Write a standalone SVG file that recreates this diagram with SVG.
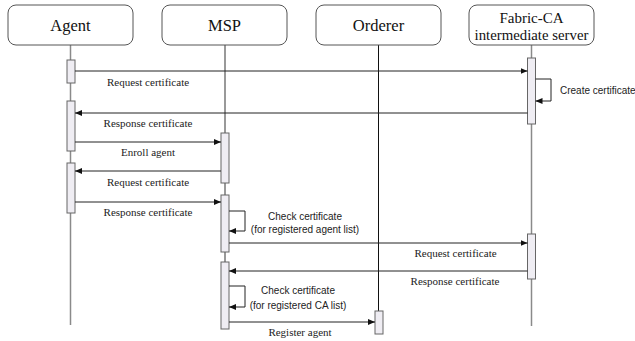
<svg xmlns="http://www.w3.org/2000/svg" width="635" height="341" viewBox="0 0 635 341">
<style>
.box{fill:#fff;stroke:#555;stroke-width:1}
.head{font-family:"Liberation Serif",serif;font-size:16.5px;fill:#111;text-anchor:middle}
.life{stroke:#8a8a8a;stroke-width:1.5;fill:none}
.act{fill:#efedf3;stroke:#666;stroke-width:1}
.msg{stroke:#222;stroke-width:1;fill:none;marker-end:url(#ah)}
.lbl{font-family:"Liberation Serif",serif;font-size:11px;fill:#222;text-anchor:middle}
.note{font-family:"Liberation Sans",sans-serif;font-size:10px;fill:#222}
</style>
<defs>
<marker id="ah" markerWidth="7" markerHeight="6" refX="7" refY="3" orient="auto" markerUnits="userSpaceOnUse">
<path d="M0,0 L7,3 L0,6 z" fill="#111"/>
</marker>
</defs>
<g id="lifelines">
<line class="life" x1="70.5" y1="45" x2="70.5" y2="325"/>
<line x1="225" y1="45" x2="225" y2="329" stroke="#555" stroke-width="1.2"/>
<line x1="378.5" y1="45" x2="378.5" y2="311" stroke="#111" stroke-width="1"/>
<line class="life" x1="531.5" y1="45" x2="531.5" y2="326"/>
</g>
<g id="agent">
<rect class="box" x="8" y="5" width="125" height="40" rx="8"/>
<text class="head" x="70.5" y="31">Agent</text>
<rect class="act" x="67" y="60" width="8" height="23"/>
<rect class="act" x="67" y="101" width="8" height="50"/>
<rect class="act" x="67" y="163" width="8" height="50"/>
</g>
<g id="msp">
<rect class="box" x="162" y="5" width="125" height="40" rx="8"/>
<text class="head" x="224.5" y="31">MSP</text>
<rect class="act" x="221" y="133" width="8" height="50"/>
<rect class="act" x="221" y="195" width="8" height="57"/>
<rect class="act" x="221" y="262" width="8" height="67"/>
</g>
<g id="orderer">
<rect class="box" x="316" y="5" width="125" height="40" rx="8"/>
<text class="head" x="378.5" y="31">Orderer</text>
<rect class="act" x="375" y="311" width="8" height="23"/>
</g>
<g id="fabric-ca">
<rect class="box" x="469" y="5" width="125" height="40" rx="8"/>
<text class="head" x="531.5" y="23" style="font-size:15px">Fabric-CA</text>
<text class="head" x="531.5" y="40" style="font-size:14.8px">intermediate server</text>
<rect class="act" x="527.5" y="58" width="8" height="66"/>
<rect class="act" x="527.5" y="234" width="8" height="45"/>
</g>
<g id="connectors">
<line class="msg" x1="75" y1="71" x2="527.5" y2="71"/>
<path class="msg" d="M535.5,79 H551 V101 H535.5"/>
<line class="msg" x1="527.5" y1="113" x2="75" y2="113"/>
<line class="msg" x1="75" y1="142" x2="221" y2="142"/>
<line class="msg" x1="221" y1="171" x2="75" y2="171"/>
<line class="msg" x1="75" y1="202" x2="221" y2="202"/>
<path class="msg" d="M229,211 H245 V231 H229"/>
<line class="msg" x1="229" y1="243" x2="527.5" y2="243"/>
<line class="msg" x1="527.5" y1="271" x2="229" y2="271"/>
<path class="msg" d="M229,286 H245 V307 H229"/>
<line class="msg" x1="229" y1="322" x2="375" y2="322"/>
</g>
<g id="labels">
<text class="lbl" x="148" y="86">Request certificate</text>
<text class="note" x="560" y="93.5">Create certificate</text>
<text class="lbl" x="148" y="127">Response certificate</text>
<text class="lbl" x="148" y="156">Enroll agent</text>
<text class="lbl" x="148" y="186">Request certificate</text>
<text class="lbl" x="148" y="216">Response certificate</text>
<text class="note" x="305" y="220" text-anchor="middle">Check certificate</text>
<text class="note" x="305" y="233" text-anchor="middle">(for registered agent list)</text>
<text class="lbl" x="455.5" y="257">Request certificate</text>
<text class="lbl" x="455" y="285">Response certificate</text>
<text class="note" x="298" y="294" text-anchor="middle">Check certificate</text>
<text class="note" x="298" y="308.5" text-anchor="middle">(for registered CA list)</text>
<text class="lbl" x="300" y="336">Register agent</text>
</g>
</svg>
